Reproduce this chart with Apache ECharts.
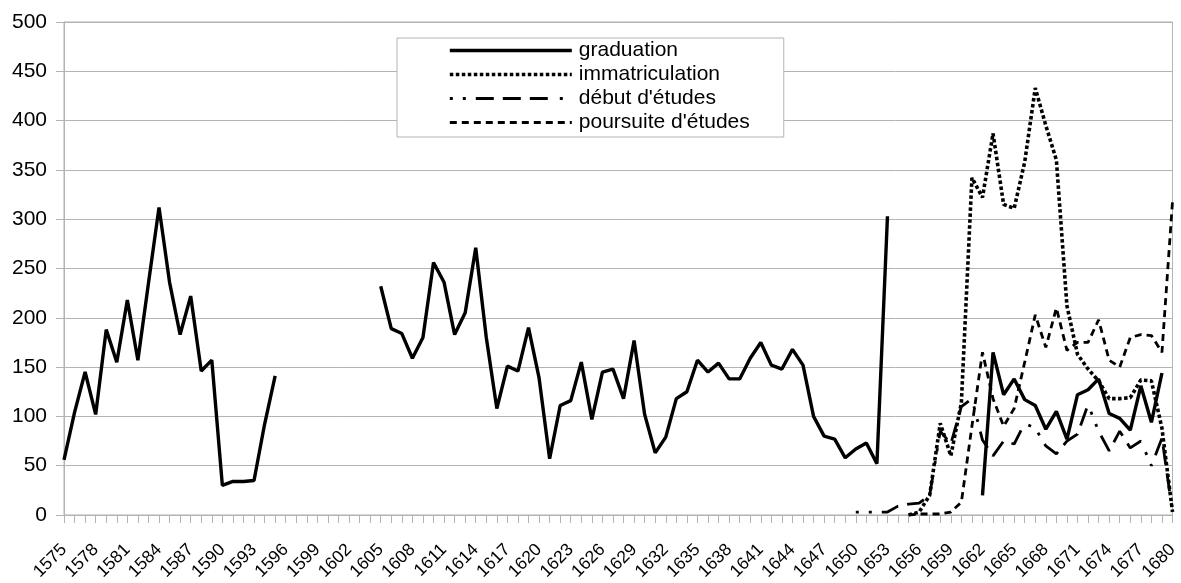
<!DOCTYPE html>
<html>
<head>
<meta charset="utf-8">
<script src="https://cdn.jsdelivr.net/npm/echarts@6/dist/echarts.min.js"></script>
<style>
html,body{margin:0;padding:0;background:#fff;}
#chart{width:1181px;height:583px;}
</style>
</head>
<body>
<div id="chart"></div>
<script>
// ---- data ----
const firstYear = 1575, lastYear = 1680;
const seriesNames = ["graduation", "immatriculation", "début d'études", "poursuite d'études"];
const yTicks = [0, 50, 100, 150, 200, 250, 300, 350, 400, 450, 500];

// graduation: segments (start year + values)
const graduationA_start = 1575;
const graduationA = [56,104,145,102,188,155,218,157,235,312,236,183,222,146,157,30,34,34,35,92,141];
const graduationB_start = 1605;
const graduationB = [232,189,184,159,180,256,236,183,205,271,
                     180,108,151,146,190,139,57,111,116,155,
                     97,145,148,118,177,102,63,79,118,125,
                     157,145,154,138,138,159,175,152,148,168,
                     152,100,80,77,58,67,73,52,303];
const graduationC_start = 1662;
const graduationC = [20,165,122,138,117,111,87,105,77,122,127,138,103,98,86,131,94,144];

const immatriculation_start = 1655;
const immatriculation = [0,3,20,93,60,114,342,322,387,315,311,358,433,395,360,212,163,148,136,118,118,119,137,136,88,3];

const debut_start = 1650;
const debut = [3,3,3,3,9,11,12,20,85,72,110,118,76,60,75,72,93,88,70,62,75,82,112,85,65,85,68,75,50,78,3];

const poursuite_start = 1655;
const poursuite = [0,1,1,1,3,13,90,165,118,90,108,155,203,170,210,167,175,175,198,157,150,180,183,182,165,318];

// ---- build ----
const years = [];
for (let y = firstYear; y <= lastYear; y++) years.push(String(y));
function place(segs) {
  const arr = years.map(() => null);
  segs.forEach(([start, vals]) => vals.forEach((v, i) => { arr[start - firstYear + i] = v; }));
  return arr;
}
const gradData = place([[graduationA_start, graduationA],[graduationB_start, graduationB],[graduationC_start, graduationC]]);
const immData = place([[immatriculation_start, immatriculation]]);
const debData = place([[debut_start, debut]]);
const pouData = place([[poursuite_start, poursuite]]);

const FONT = "'Liberation Sans', Arial, sans-serif";
const GRID = '#b3b3b3';

const styles = [
  {width: 3.4, type: 'solid'},
  {width: 3.6, type: [3.5, 2.5]},
  {width: 2.8, type: [3, 10, 3, 10, 18, 9, 18, 9, 18, 12]},
  {width: 2.8, type: [7, 5]}
];
const zs = [5, 4, 3, 3];

const chart = echarts.init(document.getElementById('chart'), null, {renderer: 'canvas'});
chart.setOption({
  animation: false,
  backgroundColor: '#fff',
  grid: {left: 64, right: 4, top: 22, bottom: 67, show: true, borderColor: GRID, borderWidth: 1},
  legend: {
    data: seriesNames.map((n, i) => ({name: n, lineStyle: {width: styles[i].width, type: styles[i].type, color: '#000'}})),
    orient: 'vertical',
    left: 397, top: 38,
    itemWidth: 122, itemHeight: 16, itemGap: 3,
    padding: [2, 34, 4, 51],
    borderColor: GRID, borderWidth: 1,
    backgroundColor: '#fff',
    itemStyle: {opacity: 0},
    textStyle: {fontSize: 21, fontFamily: FONT, color: '#000', padding: [0,0,0,2]}
  },
  xAxis: {
    type: 'category',
    data: years,
    boundaryGap: false,
    axisLine: {lineStyle: {color: GRID, width: 1}},
    axisTick: {show: true, interval: 0, length: 8, lineStyle: {color: GRID}},
    axisLabel: {interval: 2, rotate: 45, fontSize: 17.5, fontFamily: FONT, color: '#000', margin: 32},
    splitLine: {show: false}
  },
  yAxis: {
    type: 'value',
    min: yTicks[0], max: yTicks[yTicks.length - 1], interval: 50,
    axisLine: {show: true, lineStyle: {color: GRID}},
    axisTick: {show: true, length: 8, lineStyle: {color: GRID}},
    axisLabel: {fontSize: 21, fontFamily: FONT, color: '#000', margin: 17},
    splitLine: {show: true, lineStyle: {color: GRID, width: 1}}
  },
  series: [gradData, immData, debData, pouData].map((d, i) => ({
    name: seriesNames[i], type: 'line', data: d, symbol: 'none', connectNulls: false,
    lineStyle: {color: '#000', width: styles[i].width, type: styles[i].type},
    itemStyle: {color: '#000'}, z: zs[i]
  }))
});
</script>
</body>
</html>
